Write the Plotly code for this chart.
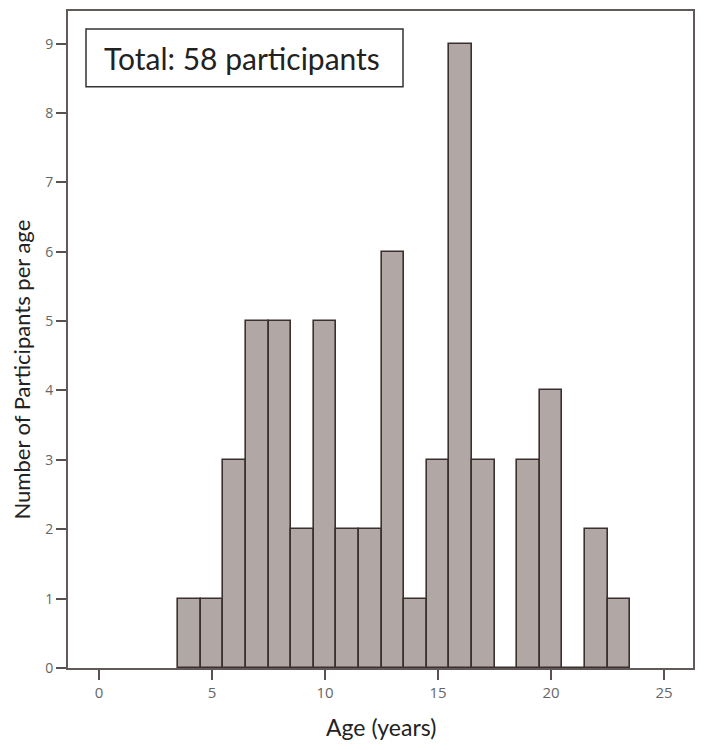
import plotly.graph_objects as go

ages = [4, 5, 6, 7, 8, 9, 10, 11, 12, 13, 14, 15, 16, 17, 18, 19, 20, 21, 22, 23]
counts = [1, 1, 3, 5, 5, 2, 5, 2, 2, 6, 1, 3, 9, 3, 0, 3, 4, 0, 2, 1]
x_ticks = [0, 5, 10, 15, 20, 25]
y_ticks = [0, 1, 2, 3, 4, 5, 6, 7, 8, 9]

fig = go.Figure()
fig.add_trace(go.Bar(
    x=ages, y=counts, width=1,
    marker=dict(color="#b1a7a4", line=dict(color="#3a302e", width=1.6)),
    showlegend=False,
))

fig.update_layout(
    width=700, height=742,
    margin=dict(l=60, r=15, t=1, b=82),
    plot_bgcolor="white", paper_bgcolor="white",
    font=dict(family="Lato, Open Sans, sans-serif"),
    bargap=0,
)
fig.update_xaxes(
    range=[-1.37, 26.28], tickvals=x_ticks,
    showline=True, linecolor="#625a58", linewidth=2, mirror=True,
    ticks="outside", ticklen=10, tickwidth=2, tickcolor="#5a5250",
    tickfont=dict(size=15, color="#666", family="Open Sans, sans-serif"),
    showgrid=False, zeroline=False,
)
fig.update_yaxes(
    range=[0, 9.47], tickvals=y_ticks,
    showline=True, linecolor="#625a58", linewidth=2, mirror=True,
    ticks="outside", ticklen=10, tickwidth=2, tickcolor="#5a5250",
    tickfont=dict(size=14, color="#666", family="Open Sans, sans-serif"),
    showgrid=False, zeroline=False,
)

fig.add_shape(
    type="rect", xref="paper", yref="paper",
    x0=0.0288, x1=0.536, y0=0.8847, y1=0.9727,
    line=dict(color="#333", width=1.5), fillcolor="white", layer="above",
)
fig.add_annotation(
    text="Total: 58 participants", xref="paper", yref="paper",
    x=0.279, y=0.9287, xanchor="center", yanchor="middle", showarrow=False,
    font=dict(size=30, color="#222"),
)
fig.add_annotation(
    text="Number of Participants per age", xref="paper", yref="paper",
    x=-0.0745, y=0.455, xanchor="center", yanchor="middle", textangle=-90,
    showarrow=False, font=dict(size=22, color="#222"),
)
fig.add_annotation(
    text="Age (years)", xref="paper", yref="paper",
    x=0.5, y=-0.0895, xanchor="center", yanchor="middle",
    showarrow=False, font=dict(size=23, color="#222"),
)

fig.write_html("out.html")
